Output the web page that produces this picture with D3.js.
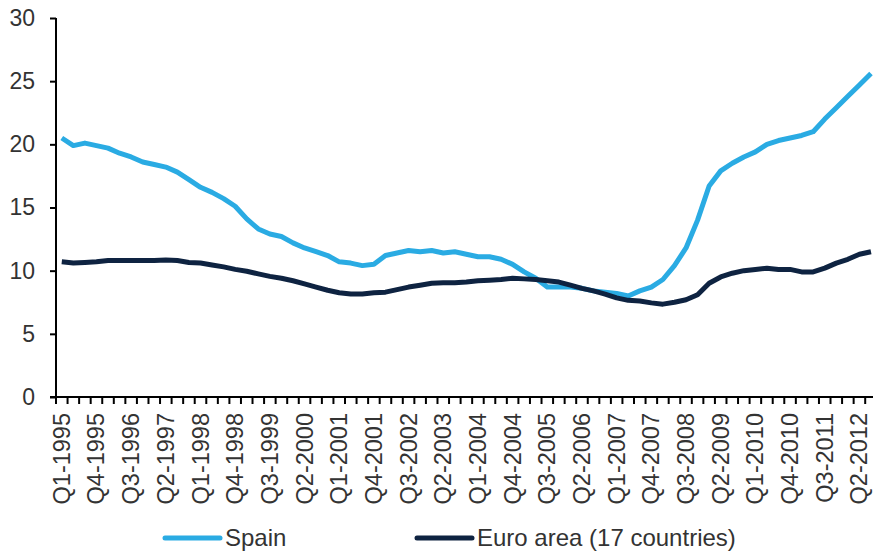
<!DOCTYPE html>
<html><head><meta charset="utf-8">
<script src="https://cdn.jsdelivr.net/npm/d3@7"></script>
<style>
html,body{margin:0;padding:0;background:#fff;}
svg text{font-family:"Liberation Sans",Arial,sans-serif;fill:#333;}
</style></head>
<body><svg id="c" width="873" height="554"></svg>
<script>
const years = d3.range(1995, 2013);
const quarters = [];
years.forEach(y => ["Q1","Q2","Q3","Q4"].forEach(q => quarters.push(q + "-" + y)));
const categories = quarters.slice(0, 71); // Q1-1995 .. Q3-2012

const spain = [20.5,19.9,20.1,19.9,19.7,19.3,19.0,18.6,18.4,18.2,
  17.8,17.2,16.6,16.2,15.7,15.1,14.1,13.3,12.9,12.7,
  12.2,11.8,11.5,11.2,10.7,10.6,10.4,10.5,11.2,11.4,
  11.6,11.5,11.6,11.4,11.5,11.3,11.1,11.1,10.9,10.5,
  9.9,9.4,8.7,8.7,8.7,8.6,8.4,8.3,8.2,8.0,
  8.4,8.7,9.3,10.4,11.8,14.0,16.7,17.9,18.5,19.0,
  19.4,20.0,20.3,20.5,20.7,21.0,22.0,22.9,23.8,24.7,
  25.6];
const euro = [10.7,10.6,10.65,10.7,10.8,10.8,10.8,10.8,10.8,10.85,
  10.8,10.65,10.6,10.45,10.3,10.1,9.95,9.75,9.55,9.4,
  9.2,8.95,8.7,8.45,8.25,8.15,8.15,8.25,8.3,8.5,
  8.7,8.85,9.0,9.05,9.05,9.1,9.2,9.25,9.3,9.4,
  9.35,9.3,9.2,9.1,8.85,8.6,8.4,8.15,7.85,7.65,
  7.6,7.45,7.35,7.5,7.7,8.1,9.0,9.5,9.8,10.0,
  10.1,10.2,10.1,10.1,9.9,9.9,10.2,10.6,10.9,11.3,
  11.5];
const yTicks = [0,5,10,15,20,25,30];
const seriesNames = ["Spain","Euro area (17 countries)"];
const colors = ["#2AABE3","#0E2341"];

const svg = d3.select("#c");
const mLeft = 56, mTop = 18, mBottom = 397;
const bw = 11.56;
const x = d3.scaleBand().domain(categories).range([mLeft, mLeft + bw*categories.length]).padding(0);
const y = d3.scaleLinear().domain([0,30]).range([mBottom, mTop]);

// y axis
const yAxis = svg.append("g").attr("transform",`translate(${mLeft},0)`)
  .call(d3.axisLeft(y).tickValues(yTicks).tickSize(6).tickPadding(15).tickFormat(d3.format("d")));
yAxis.select(".domain").attr("stroke","#000").attr("stroke-width",2).attr("d",`M0,${mTop}V${mBottom}`);
yAxis.selectAll(".tick line").attr("stroke","#000").attr("stroke-width",2);
yAxis.selectAll(".tick text").style("font-size","23px").attr("fill","#333");

// x axis tick marks at category boundaries
const xTicks = svg.append("g").attr("transform",`translate(0,${mBottom})`)
  .call(d3.axisBottom(x).tickSize(7).tickFormat(""));
xTicks.select(".domain").attr("stroke","#000").attr("stroke-width",2).attr("d",`M${mLeft-6},0H${873}`);
xTicks.selectAll(".tick line").attr("x1",-bw/2).attr("x2",-bw/2).attr("stroke","#000").attr("stroke-width",2);

// x labels
const labelVals = categories.filter((d,i)=> i%3===0);
const xLab = svg.append("g").attr("transform",`translate(0,${mBottom})`)
  .call(d3.axisBottom(x).tickValues(labelVals).tickSize(0).tickPadding(0));
xLab.select(".domain").remove();
xLab.selectAll(".tick text")
  .style("font-size","23.5px").attr("fill","#333")
  .attr("text-anchor","end").attr("dy",null)
  .attr("transform","translate(8,16) rotate(-90)").attr("x",0).attr("y",0);

// lines
const line = d3.line().x((d,i)=> x(categories[i]) + bw/2).y(d=> y(d));
[spain, euro].forEach((s,k)=>{
  svg.append("path").datum(s).attr("d",line).attr("fill","none")
    .attr("stroke",colors[k]).attr("stroke-width",5).attr("stroke-linejoin","round");
});

// legend
const legX = [165, 417];
seriesNames.forEach((n,k)=>{
  const g = svg.append("g");
  g.append("line").attr("x1",legX[k]).attr("x2",legX[k]+55).attr("y1",538).attr("y2",538)
    .attr("stroke",colors[k]).attr("stroke-width",5).attr("stroke-linecap","round");
  g.append("text").attr("x",legX[k]+60).attr("y",546).style("font-size","24px").text(n);
});
</script></body></html>
